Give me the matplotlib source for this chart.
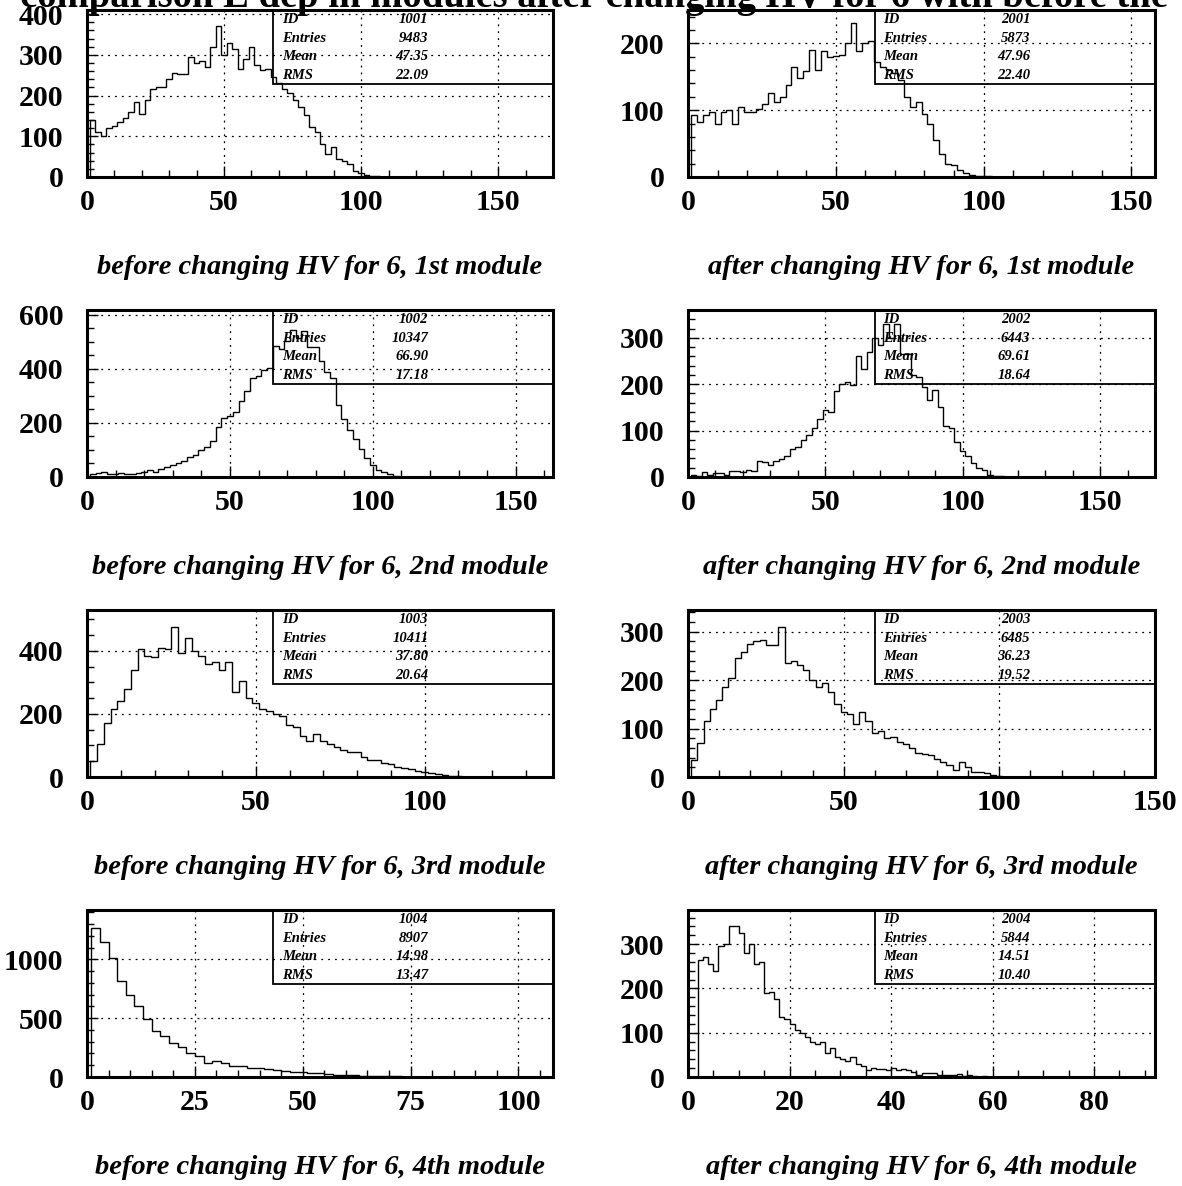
import numpy as np
import matplotlib.pyplot as plt
from matplotlib.patches import Rectangle
from matplotlib.ticker import MultipleLocator

plt.rcParams['font.family'] = 'Liberation Serif'

title = 'comparison E dep in modules after changing HV for 6 with before the'

hist_ids = [1001, 2001, 1002, 2002, 1003, 2003, 1004, 2004]
entries = [9483, 5873, 10347, 6443, 10411, 6485, 8907, 5844]
means = ['47.35', '47.96', '66.90', '69.61', '37.80', '36.23', '14.98', '14.51']
rms = ['22.09', '22.40', '17.18', '18.64', '20.64', '19.52', '13.47', '10.40']
subtitles = [
    'before changing HV for 6, 1st module', 'after changing HV for 6, 1st module',
    'before changing HV for 6, 2nd module', 'after changing HV for 6, 2nd module',
    'before changing HV for 6, 3rd module', 'after changing HV for 6, 3rd module',
    'before changing HV for 6, 4th module', 'after changing HV for 6, 4th module',
]

# first bin edge and bin width of each histogram
bin_start = [1, 1, 1, 1, 1, 1, 1, 2]
bin_width = [2, 2, 2, 2, 2, 2, 2, 1]

counts_1001 = [140, 110, 100, 120, 125, 135, 145, 160, 185, 155, 190, 215, 220, 220, 240, 255, 252, 252,
               295, 280, 285, 270, 320, 370, 300, 330, 315, 265, 290, 320, 275, 262, 265, 245, 230, 217,
               205, 190, 173, 152, 123, 111, 82, 57, 73, 44, 40, 32, 15, 9, 6, 3, 2, 1, 1]
counts_2001 = [93, 83, 93, 97, 80, 98, 100, 80, 105, 98, 97, 102, 110, 125, 112, 120, 138, 165, 148, 158,
               190, 160, 188, 180, 181, 183, 200, 230, 188, 200, 203, 172, 165, 160, 155, 145, 120, 105,
               113, 95, 80, 55, 35, 20, 18, 10, 6, 3, 2, 1, 1]
counts_1002 = [10, 15, 18, 12, 12, 15, 12, 10, 15, 20, 25, 18, 30, 38, 45, 50, 60, 75, 80, 100, 110, 135,
               185, 220, 225, 240, 280, 320, 365, 375, 395, 405, 485, 475, 505, 545, 515, 540, 480, 480,
               430, 390, 365, 265, 215, 175, 140, 105, 70, 45, 25, 20, 10, 2, 1]
counts_2002 = [5, 3, 10, 5, 8, 8, 5, 12, 12, 10, 15, 12, 35, 32, 25, 35, 38, 45, 60, 65, 80, 90, 105, 125,
               145, 140, 185, 200, 205, 198, 260, 232, 270, 300, 285, 330, 300, 330, 265, 265, 220, 215,
               195, 165, 188, 150, 110, 105, 75, 55, 45, 30, 20, 15, 5, 3, 2, 1]
counts_1003 = [50, 105, 170, 215, 240, 280, 340, 405, 385, 382, 410, 405, 475, 395, 440, 400, 385, 360,
               365, 340, 365, 270, 305, 250, 235, 215, 210, 200, 195, 165, 160, 130, 115, 135, 115, 105,
               95, 85, 80, 80, 65, 55, 55, 45, 40, 32, 30, 25, 18, 15, 12, 8, 5, 3, 2, 1]
counts_2003 = [35, 70, 115, 140, 160, 185, 205, 245, 258, 275, 280, 282, 272, 272, 310, 235, 240, 232,
               222, 200, 185, 195, 175, 150, 135, 130, 110, 135, 115, 90, 95, 80, 82, 72, 68, 60, 50, 48,
               45, 38, 30, 25, 15, 30, 20, 10, 10, 8, 5, 2, 1]
counts_1004 = [1270, 1150, 1015, 820, 700, 600, 490, 395, 345, 290, 255, 205, 175, 120, 135, 115, 95, 95,
               80, 75, 65, 60, 50, 45, 40, 38, 30, 25, 20, 18, 15, 12, 10, 8, 6, 5, 4, 3, 2, 2, 1, 1]
counts_2004 = [265, 270, 255, 240, 295, 300, 340, 340, 325, 280, 300, 255, 260, 190, 192, 175, 135, 130,
               120, 105, 100, 90, 80, 75, 78, 55, 65, 45, 40, 35, 45, 30, 25, 15, 20, 18, 17, 15, 20, 15,
               18, 15, 12, 5, 8, 10, 9, 5, 5, 5, 4, 6, 2, 5, 2, 1, 2, 1]
all_counts = [counts_1001, counts_2001, counts_1002, counts_2002,
              counts_1003, counts_2003, counts_1004, counts_2004]

x_max = [170, 158, 163, 170, 138, 150, 108, 92]
y_max = [410, 250, 618, 360, 530, 345, 1420, 377]
x_major = [50, 50, 50, 50, 50, 50, 25, 20]
x_minor = [10, 10, 10, 10, 10, 10, 5, 5]
y_major = [100, 100, 200, 100, 200, 100, 500, 100]
y_minor = [20, 20, 50, 20, 50, 20, 100, 20]

W, H = 1182, 1186
fig = plt.figure(figsize=(W / 100, H / 100), dpi=100)

col_left = [87, 688]
col_width = [466, 467]
row_top = [10, 310, 610, 910]
ax_height = 167

for i in range(8):
    r, c = i // 2, i % 2
    left = col_left[c] / W
    bottom = 1 - (row_top[r] + ax_height) / H
    ax = fig.add_axes([left, bottom, col_width[c] / W, ax_height / H])

    counts = np.array(all_counts[i])
    edges = bin_start[i] + bin_width[i] * np.arange(len(counts) + 1)
    ax.stairs(counts, edges, baseline=0, color='black', lw=1.0)

    ax.set_xlim(0, x_max[i])
    ax.set_ylim(0, y_max[i])
    ax.xaxis.set_major_locator(MultipleLocator(x_major[i]))
    ax.xaxis.set_minor_locator(MultipleLocator(x_minor[i]))
    ax.yaxis.set_major_locator(MultipleLocator(y_major[i]))
    ax.yaxis.set_minor_locator(MultipleLocator(y_minor[i]))
    ax.tick_params(which='both', direction='in', top=False, right=False, width=1)
    ax.tick_params(which='major', length=8, labelsize=21.5)
    ax.tick_params(which='minor', length=5)
    ax.tick_params(axis='x', pad=9)
    ax.tick_params(axis='y', pad=17)
    for lab in ax.get_xticklabels() + ax.get_yticklabels():
        lab.set_fontweight('bold')
    ax.grid(True, which='major', color='black', linestyle=(0, (1.5, 4)), lw=0.9)
    for sp in ax.spines.values():
        sp.set_linewidth(2.2)

    # stats box
    ax.add_patch(Rectangle((0.4, 0.554), 0.6, 0.446, transform=ax.transAxes,
                           fill=False, lw=1.3, ec='black', clip_on=False))
    rows = [('ID', str(hist_ids[i])), ('Entries', str(entries[i])),
            ('Mean', means[i]), ('RMS', rms[i])]
    for k, (lab, val) in enumerate(rows):
        y = 0.945 - k * 0.113
        ax.text(0.418, y, lab, transform=ax.transAxes, fontsize=10.5,
                fontstyle='italic', fontweight='bold', va='center', ha='left')
        ax.text(0.733, y, val, transform=ax.transAxes, fontsize=10.5,
                fontstyle='italic', fontweight='bold', va='center', ha='right')

    cx = (col_left[c] + col_width[c] / 2) / W
    cy = 1 - (row_top[r] + ax_height + 91) / H
    fig.text(cx, cy, subtitles[i], ha='center', va='center', fontsize=20.5,
             fontstyle='italic', fontweight='bold')

fig.text(20 / W, 1 - 7 / H, title, ha='left', va='baseline', fontsize=27.8, fontweight='bold')

fig.savefig('out.png', dpi=100)
